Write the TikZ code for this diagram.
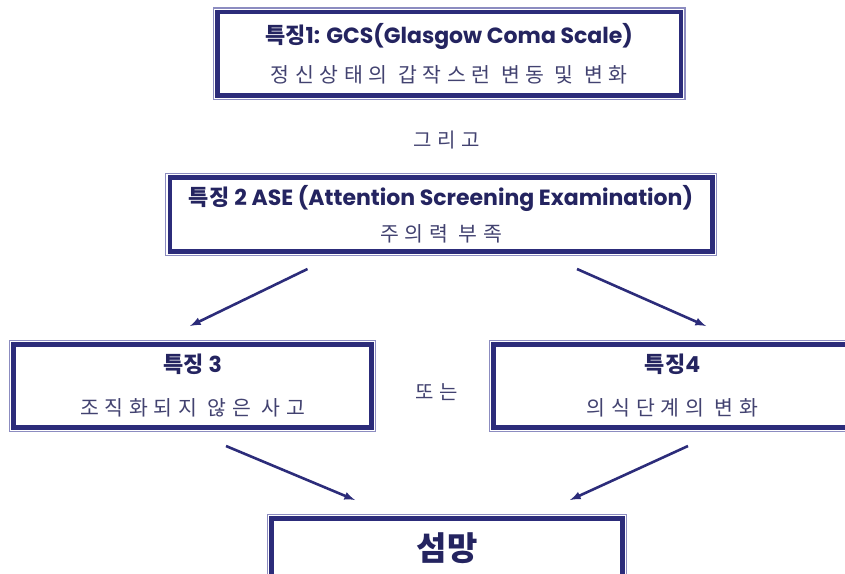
\documentclass[tikz,border=0pt]{standalone}
\usepackage{fontspec}
\newfontfamily\korfont{Noto Sans CJK KR}
\newfontfamily\widekor[LetterSpace=28]{Noto Sans CJK KR}
\newfontfamily\latfont{Poppins}
\newcommand*{\head}[2]{{\korfont\bfseries #1}{\latfont\bfseries #2}}
\newcommand*{\subline}[1]{{\color{subgrey}\widekor\fontsize{20.5}{24}\selectfont #1}}
\definecolor{navy}{RGB}{44,44,122}
\definecolor{lavender}{RGB}{140,140,192}
\definecolor{textnavy}{RGB}{36,36,96}
\definecolor{subgrey}{RGB}{66,66,112}
\usepackage{tikz}
\usetikzlibrary{arrows}
\tikzstyle{base}=[x=1pt, y=-1pt, inner sep=0pt, outer sep=0pt]
\tikzstyle{box}=[draw=navy, line width=4.5pt, fill=white, align=center, text=textnavy,
    preaction={draw=lavender, line width=9.5pt}, preaction={draw=white, line width=7pt},
    font=\fontsize{22}{24}\selectfont]
\tikzstyle{word}=[text=subgrey, font=\widekor\fontsize{20}{24}\selectfont]
\tikzstyle{link}=[navy, line width=2.6pt, -latex]

\begin{document}
\begin{tikzpicture}[base]
    \path [use as bounding box] (0,0) rectangle (845,573);
    \clip (0,0) rectangle (845,573);
        \node [box, minimum width=463.5pt, minimum height=83.5pt] (gcs) at (449,53.75)
            {\head{특징}{1: GCS(Glasgow Coma Scale)}\\[15pt]\subline{정신상태의 갑작스런 변동 및 변화}};
        \node [word] (and) at (447,140) {그리고};
        \node [box, minimum width=542.5pt, minimum height=74pt] (ase) at (441,214.5)
            {\head{특징 }{2 ASE (Attention Screening Examination)}\\[12pt]\subline{주의력 부족}};
        \node [box, minimum width=358pt, minimum height=83pt] (f3) at (192.5,386)
            {\head{특징 }{3}\\[19pt]\subline{조직화되지 않은 사고}};
        \node [word] (or) at (437,392) {또는};
        \node [box, minimum width=358pt, minimum height=83pt] (f4) at (672.5,386)
            {\head{특징}{4}\\[19pt]\subline{의식단계의 변화}};
        \node [box, minimum width=351pt, minimum height=59pt, font=\korfont\bfseries\fontsize{33}{38}\selectfont] (del) at (447,548) {섬망};
        \coordinate (ase-l) at (307.5,269);
        \coordinate (f3-top) at (190,326);
        \coordinate (ase-r) at (577,269);
        \coordinate (f4-top) at (706,326);
        \coordinate (f3-bot) at (226,446);
        \coordinate (del-l) at (355,500);
        \coordinate (f4-bot) at (688,446);
        \coordinate (del-r) at (570,500);
        \draw [link] (ase-l) -- (f3-top);
        \draw [link] (ase-r) -- (f4-top);
        \draw [link] (f3-bot) -- (del-l);
        \draw [link] (f4-bot) -- (del-r);
    \end{tikzpicture}
\end{document}
